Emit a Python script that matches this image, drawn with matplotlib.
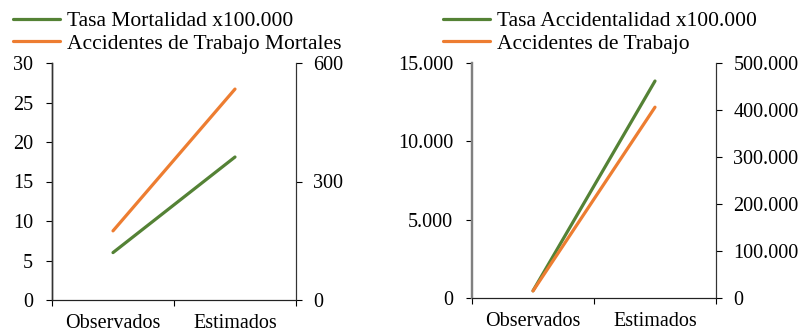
import matplotlib.pyplot as plt
from matplotlib.ticker import FixedLocator, NullFormatter

categorias = ['Observados', 'Estimados']

tasa_mortalidad = [6.0, 18.1]
acc_mortales = [175, 534]

tasa_accidentalidad = [460, 13850]
acc_trabajo = [15000, 406000]

verde = '#548235'
naranja = '#ED7D31'

plt.rcParams['font.family'] = ['Liberation Serif', 'DejaVu Serif']
plt.rcParams['font.size'] = 14.5


def miles(v):
    return f'{int(v):,}'.replace(',', '.')


def panel(fig, rect, izq, der, lab_izq, lab_der, lim_izq, ticks_izq, lim_der, ticks_der,
          leg_xy, color_spine_izq, ancho_spine_izq):
    ax = fig.add_axes(rect)
    ax2 = ax.twinx()
    x = [0.5, 1.5]
    l1, = ax.plot(x, izq, color=verde, lw=2.3, solid_capstyle='round')
    l2, = ax2.plot(x, der, color=naranja, lw=2.3, solid_capstyle='round')
    ax.set_xlim(0, 2)
    ax.set_ylim(*lim_izq)
    ax2.set_ylim(*lim_der)
    ax.set_yticks(ticks_izq)
    ax.set_yticklabels([miles(t) for t in ticks_izq])
    ax2.set_yticks(ticks_der)
    ax2.set_yticklabels([miles(t) for t in ticks_der])
    ax.xaxis.set_major_locator(FixedLocator([0, 1, 2]))
    ax.xaxis.set_major_formatter(NullFormatter())
    ax.xaxis.set_minor_locator(FixedLocator(x))
    ax.set_xticklabels(categorias, minor=True)
    ax.tick_params(axis='x', which='minor', length=0, pad=10)
    ax.tick_params(axis='x', which='major', length=4.5, direction='out')
    ax.tick_params(axis='y', length=4.5, direction='out', pad=9)
    ax2.tick_params(axis='y', length=4.5, direction='out', pad=8)
    for a in (ax, ax2):
        a.spines['top'].set_visible(False)
        a.spines['left'].set_color(color_spine_izq)
        a.spines['left'].set_linewidth(ancho_spine_izq)
        a.spines['right'].set_color('#333333')
        a.spines['bottom'].set_color('#222222')
    fig.legend([l1, l2], [lab_izq, lab_der], loc='upper left', bbox_to_anchor=leg_xy,
               frameon=False, handlelength=2.2, handletextpad=0.3, labelspacing=0.12,
               borderpad=0, borderaxespad=0, fontsize=15.5)
    return ax, ax2


fig = plt.figure(figsize=(8.06, 3.33), dpi=100)

panel(fig, [52 / 806, 33 / 333, 244 / 806, 237 / 333],
      tasa_mortalidad, acc_mortales,
      'Tasa Mortalidad x100.000', 'Accidentes de Trabajo Mortales',
      (0, 30), [0, 5, 10, 15, 20, 25, 30], (0, 600), [0, 300, 600],
      (13 / 806, 1 - 11 / 333), '#333333', 1.0)

panel(fig, [472 / 806, 35 / 333, 244 / 806, 235 / 333],
      tasa_accidentalidad, acc_trabajo,
      'Tasa Accidentalidad x100.000', 'Accidentes de Trabajo',
      (0, 15000), [0, 5000, 10000, 15000], (0, 500000),
      [0, 100000, 200000, 300000, 400000, 500000],
      (443 / 806, 1 - 11 / 333), '#808080', 1.6)

fig.savefig('out.png', dpi=100)
